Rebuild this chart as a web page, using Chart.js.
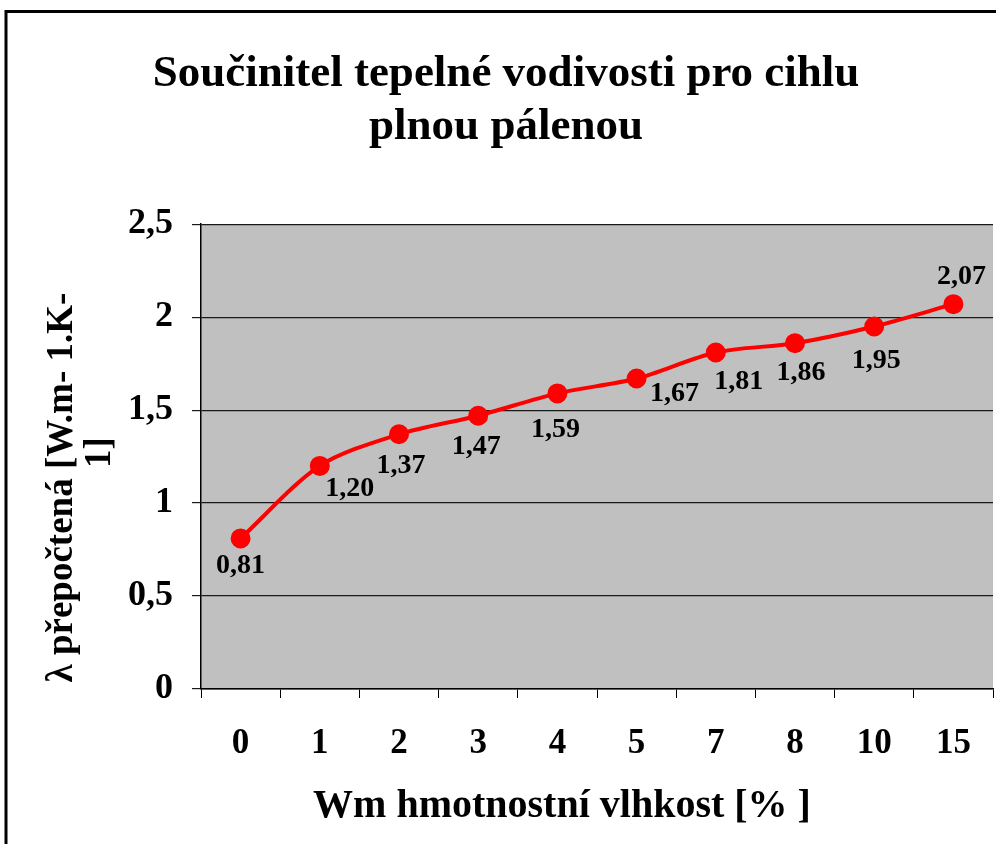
<!DOCTYPE html>
<html>
<head>
<meta charset="utf-8">
<script src="https://cdn.jsdelivr.net/npm/chart.js@4.4.1/dist/chart.umd.min.js"></script>
<style>
html,body{margin:0;padding:0;background:#fff;overflow:hidden;}
#wrap{width:996px;height:844px;position:relative;overflow:hidden;}
</style>
</head>
<body>
<div id="wrap"><canvas id="c" width="1012" height="844"></canvas></div>
<script>
const categories = ['0','1','2','3','4','5','7','8','10','15'];
const lambdaValues = [0.81, 1.20, 1.37, 1.47, 1.59, 1.67, 1.81, 1.86, 1.95, 2.07];
const yTicks = [0, 0.5, 1, 1.5, 2, 2.5];
const titleLines = ['Součinitel tepelné vodivosti pro cihlu', 'plnou pálenou'];
const xTitle = 'Wm hmotnostní vlhkost [% ]';
const yTitleLines = ['λ přepočtená [W.m- 1.K-', '1]'];

const SERIF = '"Liberation Serif", "Times New Roman", serif';

// label placement (pixel nudges relative to each point, like Excel's auto placement)
const labelNudge = [[0,27],[30,23],[2,31],[-2,31],[-2,36],[38,15],[23,29],[6,30],[2,34],[8,-27]];

const fmt = v => String(v).replace('.', ',');

const framePlugin = {
  id: 'frame',
  beforeDraw(chart) {
    const {ctx, chartArea: a} = chart;
    ctx.save();
    ctx.fillStyle = '#ffffff';
    ctx.fillRect(0, 0, chart.width, chart.height);
    ctx.fillStyle = '#C0C0C0';
    ctx.fillRect(a.left, a.top, a.right - a.left, a.bottom - a.top);
    ctx.strokeStyle = '#000';
    ctx.lineWidth = 3;
    ctx.beginPath();
    ctx.moveTo(6, chart.height + 5);
    ctx.lineTo(6, 11.5);
    ctx.lineTo(chart.width + 5, 11.5);
    ctx.stroke();
    ctx.restore();
  }
};

// axis titles placed the way Excel placed them (each line centred on its own)
const axisTitlePlugin = {
  id: 'axisTitles',
  afterDraw(chart) {
    const {ctx, chartArea: a} = chart;
    const midY = (a.top + a.bottom) / 2;
    const midX = (a.left + a.right) / 2;
    ctx.save();
    ctx.fillStyle = '#000';
    ctx.textAlign = 'center';
    ctx.textBaseline = 'middle';
    ctx.font = 'bold 40px ' + SERIF;
    ctx.fillText(xTitle, midX - 35, a.bottom + 118);
    ctx.font = 'bold 37px ' + SERIF;
    const yPos = [[a.left - 139, midY + 31], [a.left - 101, midY - 4]];
    yTitleLines.forEach((t, i) => {
      ctx.save();
      ctx.translate(yPos[i][0], yPos[i][1]);
      ctx.rotate(-Math.PI / 2);
      ctx.fillText(t, 0, 0);
      ctx.restore();
    });
    ctx.restore();
  }
};

const labelPlugin = {
  id: 'pointLabels',
  afterDatasetsDraw(chart) {
    const {ctx} = chart;
    const meta = chart.getDatasetMeta(0);
    ctx.save();
    ctx.font = 'bold 28px ' + SERIF;
    ctx.fillStyle = '#000';
    ctx.textAlign = 'center';
    ctx.textBaseline = 'middle';
    meta.data.forEach((pt, i) => {
      const v = chart.data.datasets[0].data[i];
      const txt = v.toFixed(2).replace('.', ',');
      const n = labelNudge[i] || [0, 28];
      ctx.fillText(txt, pt.x + n[0], pt.y + n[1]);
    });
    ctx.restore();
  }
};

new Chart(document.getElementById('c'), {
  type: 'line',
  data: {
    labels: categories,
    datasets: [{
      data: lambdaValues,
      borderColor: '#FF0000',
      backgroundColor: '#FF0000',
      borderWidth: 4,
      pointRadius: 8,
      pointHoverRadius: 8,
      pointBackgroundColor: '#FF0000',
      pointBorderColor: '#FF0000',
      tension: 0.3,
      fill: false
    }]
  },
  options: {
    responsive: false,
    animation: false,
    devicePixelRatio: 1,
    locale: 'cs-CZ',
    layout: {padding: {left: 19, right: 19, top: 0, bottom: 11}},
    plugins: {
      legend: {display: false},
      tooltip: {enabled: false},
      title: {
        display: true,
        text: titleLines,
        color: '#000',
        font: {family: SERIF, size: 45, weight: 'bold', lineHeight: 1.18},
        padding: {top: 48, bottom: 70}
      }
    },
    scales: {
      x: {
        offset: true,
        afterFit(scale) { scale.height += 43; },
        grid: {display: true, drawOnChartArea: false, drawTicks: true, tickLength: 9, offset: true, color: '#000', lineWidth: 1},
        border: {display: true, color: '#000', width: 1.5},
        ticks: {color: '#000', font: {family: SERIF, size: 35, weight: 'bold'}, padding: 25, maxRotation: 0},
        title: {display: false}
      },
      y: {
        min: 0, max: 2.5,
        afterBuildTicks(scale) { scale.ticks = yTicks.map(v => ({value: v})); },
        afterFit(scale) { scale.width += 90; },
        grid: {color: '#1a1a1a', lineWidth: 1.2, tickLength: 9, drawTicks: true},
        border: {display: true, color: '#000', width: 1.5},
        ticks: {color: '#000', font: {family: SERIF, size: 36, weight: 'bold'}, padding: 19, callback: v => fmt(v)},
        title: {display: false}
      }
    }
  },
  plugins: [framePlugin, labelPlugin, axisTitlePlugin]
});
</script>
</body>
</html>
